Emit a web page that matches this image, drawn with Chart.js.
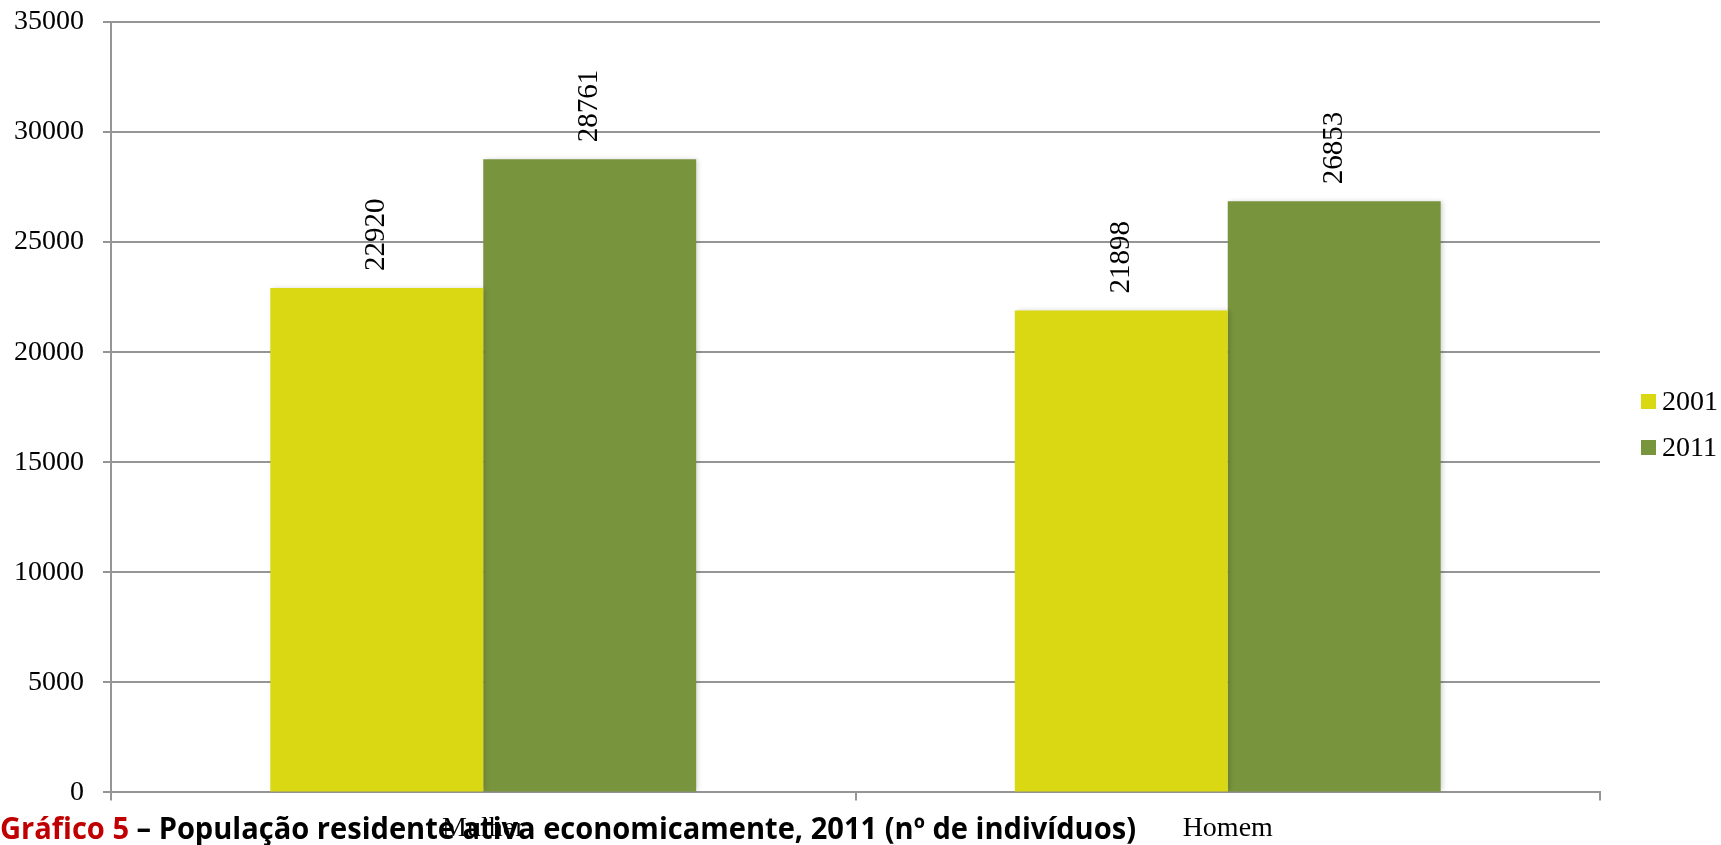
<!DOCTYPE html>
<html lang="pt">
<head>
<meta charset="utf-8">
<title>População residente ativa economicamente, 2011</title>
<script src="https://cdn.jsdelivr.net/npm/chart.js@4.4.1/dist/chart.umd.min.js"></script>
<style>
  html, body { margin: 0; padding: 0; background: #fff; }
  #wrap { position: relative; width: 1721px; height: 845px; overflow: hidden; }
  #caption {
    position: absolute; left: 0; top: 807px;
    white-space: nowrap; line-height: 1;
    font: bold 30px 'Liberation Sans Narrow', 'Open Sans', sans-serif;
    color: #000; transform-origin: 0 0;
  }
  #caption .num { color: #c00000; }
</style>
</head>
<body>
<div id="wrap">
  <canvas id="chart" width="1721" height="845"></canvas>
  <div id="caption"><span class="num">Gráfico 5</span> – População residente ativa economicamente, 2011 (nº de indivíduos)</div>
</div>
<script>
const categories = ['Mulher', 'Homem'];
const seriesLabels = ['2001', '2011'];
const values2001 = [22920, 21898];
const values2011 = [28761, 26853];
const yTickValues = [0, 5000, 10000, 15000, 20000, 25000, 30000, 35000];

const serif = 'Liberation Serif';
const gridColor = '#959595';
const seriesColors = ['#d9d812', '#78943c'];

// rotated value above every bar
const barValueLabels = {
  id: 'barValueLabels',
  afterDatasetsDraw(chart) {
    const ctx = chart.ctx;
    ctx.save();
    ctx.font = `29px "${serif}"`;
    ctx.fillStyle = '#000';
    ctx.textAlign = 'left';
    ctx.textBaseline = 'middle';
    chart.data.datasets.forEach((ds, di) => {
      chart.getDatasetMeta(di).data.forEach((bar, i) => {
        ctx.save();
        ctx.translate(bar.x, bar.y - 17);
        ctx.rotate(-Math.PI / 2);
        ctx.fillText(String(ds.data[i]), 0, 0);
        ctx.restore();
      });
    });
    ctx.restore();
  }
};

// soft shadow on the bars
const barShadow = {
  id: 'barShadow',
  beforeDatasetsDraw(chart) {
    const ctx = chart.ctx;
    ctx.save();
    ctx.shadowColor = 'rgba(0,0,0,0.18)';
    ctx.shadowBlur = 5;
    ctx.shadowOffsetX = 2;
  },
  afterDatasetsDraw(chart) {
    chart.ctx.restore();
  }
};

// legend on the right, squares + year
const sideLegend = {
  id: 'sideLegend',
  afterDraw(chart) {
    const ctx = chart.ctx;
    const x = chart.chartArea.right + 41;
    const step = 46;
    const n = chart.data.datasets.length;
    let y = chart.height / 2 + 2 - (n - 1) * step / 2;
    ctx.save();
    ctx.font = `28px "${serif}"`;
    ctx.textBaseline = 'middle';
    ctx.textAlign = 'left';
    chart.data.datasets.forEach(ds => {
      ctx.fillStyle = ds.backgroundColor;
      ctx.fillRect(x, y - 7.5, 15, 15);
      ctx.fillStyle = '#000';
      ctx.fillText(ds.label, x + 21, y + 1);
      y += step;
    });
    ctx.restore();
  }
};

new Chart(document.getElementById('chart'), {
  type: 'bar',
  data: {
    labels: categories,
    datasets: [
      { label: seriesLabels[0], data: values2001, backgroundColor: seriesColors[0] },
      { label: seriesLabels[1], data: values2011, backgroundColor: seriesColors[1] }
    ]
  },
  options: {
    responsive: false,
    animation: false,
    datasets: { bar: { categoryPercentage: 0.572, barPercentage: 1 } },
    layout: { padding: { left: -5, right: 121, top: 22, bottom: -11 } },
    plugins: { legend: { display: false }, tooltip: { enabled: false } },
    scales: {
      x: {
        grid: { drawOnChartArea: false, tickLength: 8, color: gridColor, lineWidth: 2, offset: true },
        border: { color: gridColor, width: 2 },
        ticks: { font: { family: serif, size: 28 }, color: '#000', padding: 11 }
      },
      y: {
        min: 0,
        max: yTickValues[yTickValues.length - 1],
        afterBuildTicks(scale) { scale.ticks = yTickValues.map(v => ({ value: v })); },
        grid: { color: gridColor, lineWidth: 2, tickLength: 8 },
        border: { color: gridColor, width: 2 },
        ticks: {
          // small lineHeight keeps the top label from pushing the plot down
          font: { family: serif, size: 28, lineHeight: 0.2 }, color: '#000', padding: 19,
          callback: v => String(v)
        }
      }
    }
  },
  plugins: [barShadow, barValueLabels, sideLegend]
});

// stretch caption to its printed width
const cap = document.getElementById('caption');
const capWidth = cap.getBoundingClientRect().width;
cap.style.transform = `scaleX(${1136 / capWidth})`;
</script>
</body>
</html>
